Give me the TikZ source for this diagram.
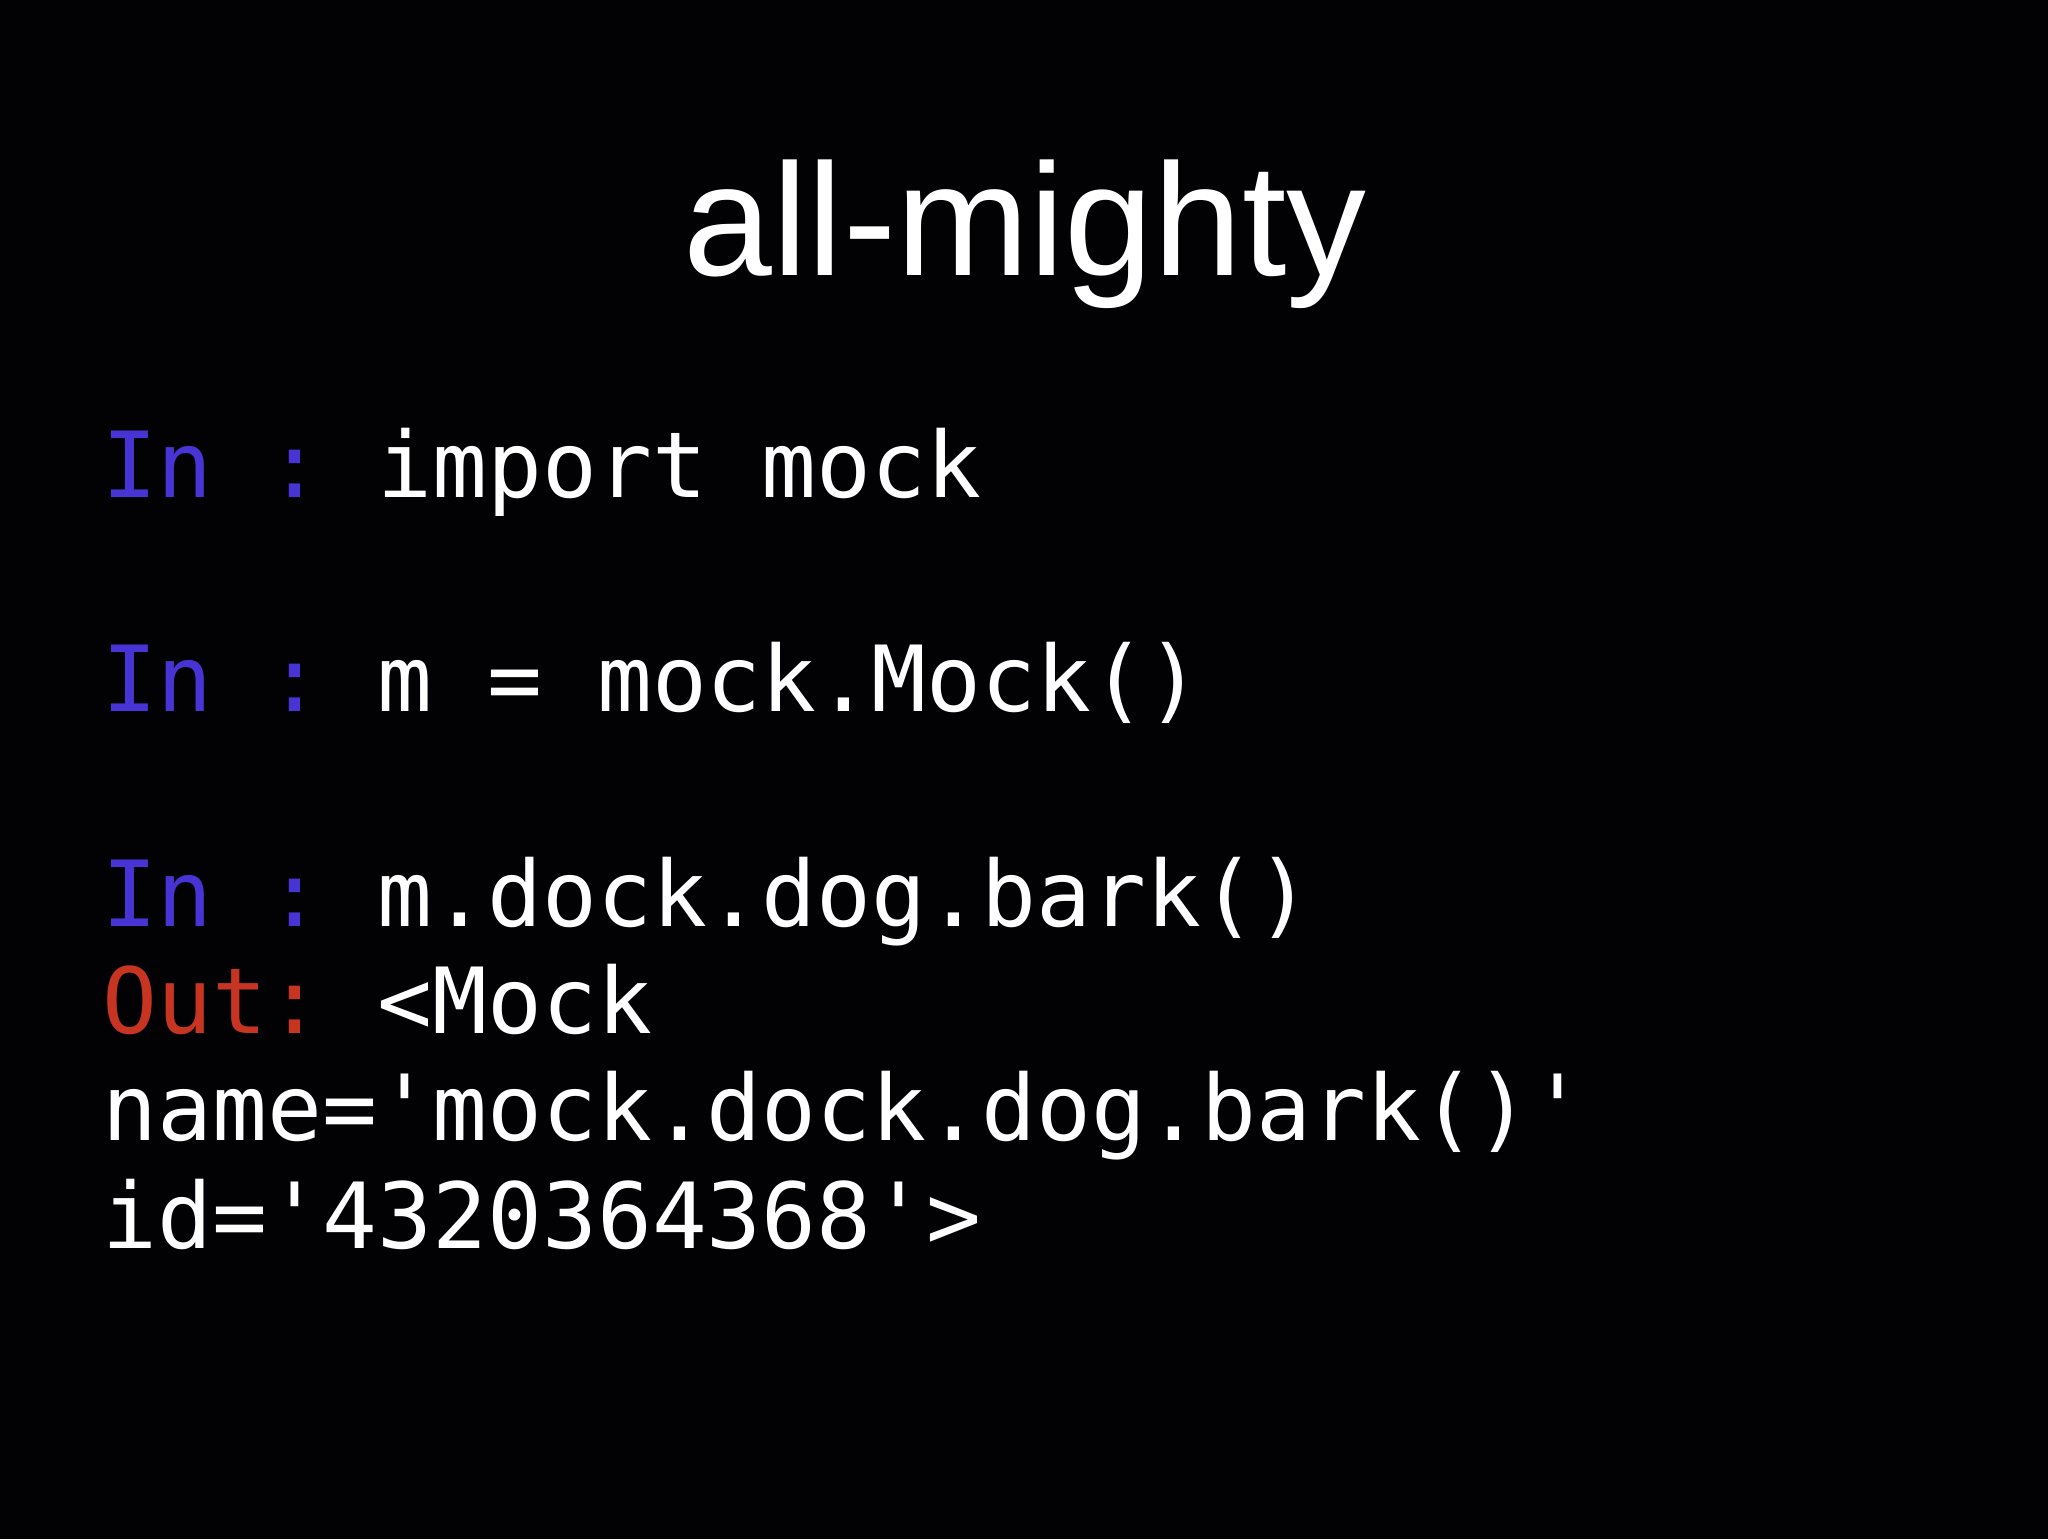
\documentclass[tikz,border=0pt]{standalone}
\usepackage{fontspec}
\setmainfont{Liberation Sans}
\setmonofont{DejaVu Sans Mono}
\definecolor{inblue}{RGB}{72,52,212}
\definecolor{outred}{RGB}{200,52,34}
\definecolor{bg}{RGB}{2,2,4}
\tikzset{code/.style={anchor=base west,inner sep=0pt,text=white,font=\ttfamily\fontsize{70.3}{80}\selectfont}}
\begin{document}
\begin{tikzpicture}[x=1pt,y=-1pt]
\fill[bg] (-5,-5) rectangle (1573,1181);
\useasboundingbox (0,0) rectangle (1568,1176);
\node[anchor=base,inner sep=0pt,text=white,font=\fontsize{123}{135}\selectfont] (title) at (785,207) {all-mighty};
\node[code] (l1) at (74,378) {\textcolor{inblue}{In :} import mock};
\node[code] (l2) at (74,543) {\textcolor{inblue}{In :} m = mock.Mock()};
\node[code] (l3) at (74,709) {\textcolor{inblue}{In :} m.dock.dog.bark()};
\node[code] (l4) at (74,791) {\textcolor{outred}{Out:} <Mock};
\node[code] (l5) at (74,874) {name='mock.dock.dog.bark()'};
\node[code] (l6) at (74,957) {id='4320364368'>};
\end{tikzpicture}
\end{document}
